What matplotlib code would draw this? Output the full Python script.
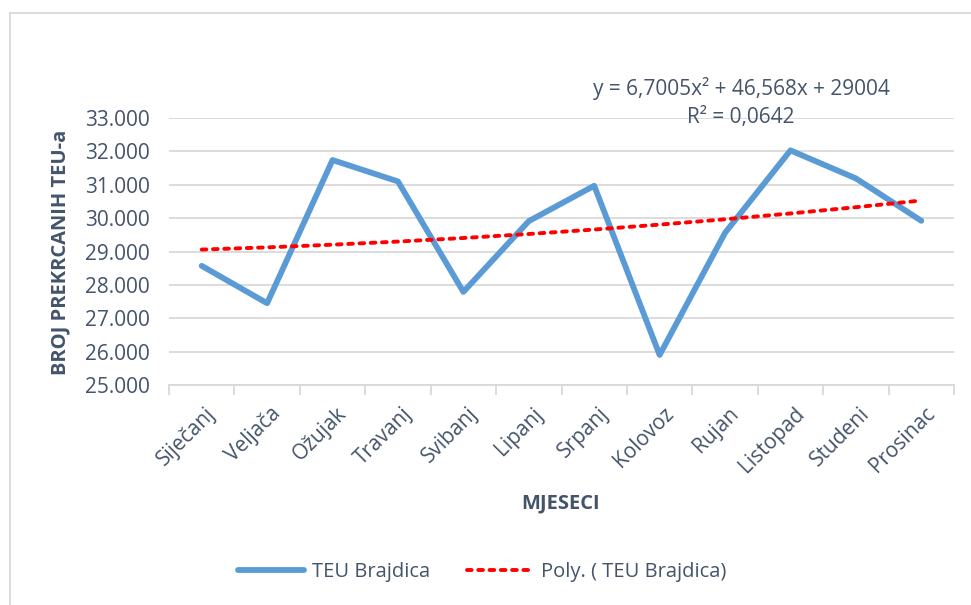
import matplotlib
matplotlib.use("Agg")
import matplotlib.pyplot as plt
import matplotlib.transforms as mtransforms
import numpy as np
from matplotlib.lines import Line2D

months = ["Siječanj", "Veljača", "Ožujak", "Travanj", "Svibanj", "Lipanj",
          "Srpanj", "Kolovoz", "Rujan", "Listopad", "Studeni", "Prosinac"]
teu = [28570, 27450, 31740, 31100, 27790, 29910, 30970, 25900, 29560, 32030, 31190, 29920]
poly_coef = [6.7005, 46.568, 29004]  # a*x^2 + b*x + c, x = 1..12
y_ticks = [25000, 26000, 27000, 28000, 29000, 30000, 31000, 32000, 33000]
y_tick_labels = ["25.000", "26.000", "27.000", "28.000", "29.000", "30.000", "31.000", "32.000", "33.000"]

TXT = "#44546A"
GRID = "#D9D9D9"
BLUE = "#5B9BD5"
RED = "#FF0000"
plt.rcParams['font.family'] = ["Open Sans", "DejaVu Sans"]

fig = plt.figure(figsize=(9.71, 6.05), dpi=100)
W, H = 971, 605
ax = fig.add_axes([169 / W, 1 - 385 / H, (954 - 169) / W, (385 - 118) / H])

DASH = (0, (1.2, 1.7))
x = np.arange(len(months))
ax.plot(x, teu, color=BLUE, lw=4.2, solid_joinstyle="round", solid_capstyle="round", zorder=3)
xt = np.arange(1, len(months) + 1)
trend = poly_coef[0] * xt ** 2 + poly_coef[1] * xt + poly_coef[2]
ax.plot(x, trend, color=RED, lw=2.8, linestyle=DASH, dash_capstyle="round", zorder=4)

ax.set_xlim(-0.5, len(months) - 0.5)
ax.set_ylim(25000, 33000)
ax.set_yticks(y_ticks)
ax.set_yticklabels(y_tick_labels, fontsize=15, color=TXT)
ax.yaxis.grid(True, color=GRID, lw=1.3)
ax.set_axisbelow(True)
ax.tick_params(axis="y", length=0, pad=14)
for s in ["top", "right", "left"]:
    ax.spines[s].set_visible(False)
ax.spines["bottom"].set_color(GRID)
ax.spines["bottom"].set_linewidth(1.3)

ax.set_xticks(x)
ax.set_xticklabels(months, rotation=45, ha="right", va="center", rotation_mode="anchor",
                   fontsize=15, color=TXT)
ax.tick_params(axis="x", length=0, pad=20)
off = mtransforms.ScaledTranslation(11 / 100, 2 / 100, fig.dpi_scale_trans)
for lab in ax.get_xticklabels():
    lab.set_transform(lab.get_transform() + off)
ax.set_xticks(np.arange(-0.5, len(months) + 0.5, 1), minor=True)
ax.tick_params(axis="x", which="minor", length=7, color=GRID, width=1.3)

fig.text(60 / W, 1 - 252 / H, "BROJ PREKRCANIH TEU-a", rotation=90, fontsize=14.5, fontweight="bold",
         color=TXT, ha="center", va="center")
fig.text(561 / W, 1 - 503 / H, "MJESECI", fontsize=14.5, fontweight="bold", color=TXT, ha="center", va="center")

fig.text(741 / W, 1 - 88 / H, "y = 6,7005x² + 46,568x + 29004", fontsize=15, color=TXT, ha="center", va="center")
fig.text(741 / W, 1 - 118 / H, "R² = 0,0642", fontsize=15, color=TXT, ha="center", va="center")

handles = [Line2D([], [], color=BLUE, lw=4.2, solid_capstyle="round"),
           Line2D([], [], color=RED, lw=2.8, linestyle=DASH, dash_capstyle="round")]
fig.legend(handles, ["TEU Brajdica", "Poly. ( TEU Brajdica)"], loc="center", bbox_to_anchor=(482 / W, 1 - 572 / H),
           ncol=2, frameon=False, fontsize=14.5, labelcolor=TXT, handlelength=3.3, columnspacing=1.8,
           handletextpad=0.4)

# chart border (partial, cropped)
fig.add_artist(Line2D([10 / W, 10 / W], [0, 1 - 13 / H], color=GRID, lw=1.3, transform=fig.transFigure))
fig.add_artist(Line2D([10 / W, 1], [1 - 13 / H, 1 - 13 / H], color=GRID, lw=1.3, transform=fig.transFigure))

fig.savefig("out.png", dpi=100)
